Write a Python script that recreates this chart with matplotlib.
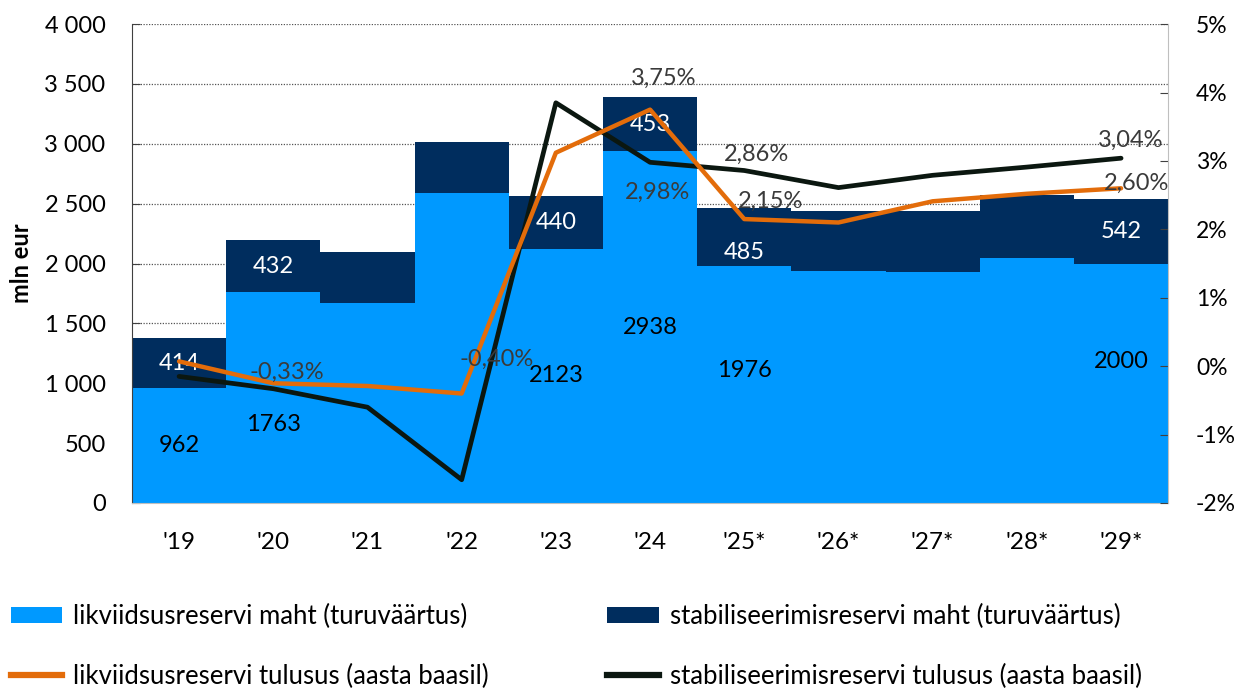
import matplotlib
matplotlib.use("Agg")
import matplotlib.pyplot as plt
from matplotlib.patches import Patch
from matplotlib.lines import Line2D

plt.rcParams["font.family"] = ["Lato", "DejaVu Sans"]

years = ["'19", "'20", "'21", "'22", "'23", "'24", "'25*", "'26*", "'27*", "'28*", "'29*"]
liquidity_size = [962, 1763, 1673, 2591, 2123, 2938, 1976, 1940, 1932, 2049, 2000]
stabil_size = [414, 432, 426, 421, 440, 453, 485, 498, 506, 523, 542]
liquidity_return = [0.07, -0.25, -0.29, -0.40, 3.12, 3.75, 2.15, 2.10, 2.41, 2.52, 2.60]
stabil_return = [-0.15, -0.33, -0.60, -1.66, 3.85, 2.98, 2.86, 2.61, 2.79, 2.91, 3.04]

# bars whose sizes are written on them
labelled_bars = {0, 1, 4, 5, 6, 10}
# return points that get a label, with offsets in points
liq_pct_labels = {3: (25, 17), 5: (10, 15), 6: (19, 5), 10: (11, -4)}
stab_pct_labels = {1: (10, 4), 5: (5, -29), 6: (9, 4), 10: (7, 5)}
# vertical nudges for a few bar labels (in mln eur)
light_nudge = {1: -230, 6: 120, 10: 185}
dark_nudge = {6: -125}

LIGHT = "#0099ff"
DARK = "#002d5e"
ORANGE = "#e36c0a"
BLACK = "#0b1710"

fig = plt.figure(figsize=(12.38, 6.89), dpi=100)
ax = fig.add_axes([0.1066, 0.270, 0.8370, 0.695])
x = list(range(len(years)))

ax.bar(x, liquidity_size, width=1.0, color=LIGHT, zorder=2)
ax.bar(x, stabil_size, width=1.0, bottom=liquidity_size, color=DARK, zorder=2)

ax.set_xlim(-0.5, len(years) - 0.5)
ax.set_ylim(0, 4000)
ax.set_yticks(range(0, 4001, 500))
ax.set_yticklabels([f"{v:,}".replace(",", " ") for v in range(0, 4001, 500)])
ax.yaxis.grid(True, linestyle=(0, (1, 1.2)), color="#555555", linewidth=0.9, zorder=0)
ax.set_axisbelow(True)
ax.set_xticks(x)
ax.set_xticklabels(years)
ax.tick_params(axis="x", length=0, labelsize=17.5, pad=21)
ax.tick_params(axis="y", direction="in", length=6, color="#404040", labelsize=17, pad=19)
ax.set_ylabel("mln eur", fontsize=17, fontweight="bold", labelpad=8)
ax.spines["top"].set_visible(False)
ax.spines["right"].set_visible(False)
ax.spines["left"].set_color("#404040")
ax.spines["bottom"].set_color("#bfbfbf")

for i in labelled_bars:
    yv = liquidity_size[i] / 2 + light_nudge.get(i, 0)
    ax.text(i, yv, str(liquidity_size[i]), ha="center", va="center",
            fontsize=17, color="black", zorder=5)
    yv = liquidity_size[i] + stabil_size[i] / 2 + dark_nudge.get(i, 0)
    ax.text(i, yv, str(stabil_size[i]), ha="center", va="center",
            fontsize=17, color="white", zorder=5)

ax2 = ax.twinx()
ax2.set_ylim(-2, 5)
ax2.set_yticks(range(-2, 6))
ax2.set_yticklabels([f"{v}%" for v in range(-2, 6)])
ax2.tick_params(axis="y", direction="in", length=6, color="#404040", labelsize=16.5, pad=20)
ax2.spines["right"].set_color("#bfbfbf")
for side in ("top", "left", "bottom"):
    ax2.spines[side].set_visible(False)

ax2.plot(x, liquidity_return, color=ORANGE, linewidth=3.2, solid_capstyle="round", zorder=4)
ax2.plot(x, stabil_return, color=BLACK, linewidth=3.4, solid_capstyle="round", zorder=3)

for series, marks in ((liquidity_return, liq_pct_labels), (stabil_return, stab_pct_labels)):
    for i, (dx, dy) in marks.items():
        ax2.annotate(f"{series[i]:.2f}%".replace(".", ","), (i, series[i]),
                     xytext=(dx, dy), textcoords="offset points",
                     ha="center", va="bottom", fontsize=17,
                     color="#3a3a3a", zorder=6)

# column-wise order so the rows read: sizes on top, returns below
handles = [
    Patch(facecolor=LIGHT, label="likviidsusreservi maht (turuväärtus)"),
    Line2D([], [], color=ORANGE, linewidth=4.5, label="likviidsusreservi tulusus (aasta baasil)"),
    Patch(facecolor=DARK, label="stabiliseerimisreservi maht (turuväärtus)"),
    Line2D([], [], color=BLACK, linewidth=4.5, label="stabiliseerimisreservi tulusus (aasta baasil)"),
]
fig.legend(handles=handles, ncol=2, loc="upper left",
           bbox_to_anchor=(11 / 1238, 1 - 604 / 689),
           frameon=False, fontsize=18.5, handlelength=2.0, handleheight=0.62,
           handletextpad=0.43, columnspacing=4.6, labelspacing=1.36,
           borderpad=0, borderaxespad=0)

fig.savefig("out.png", dpi=100)
